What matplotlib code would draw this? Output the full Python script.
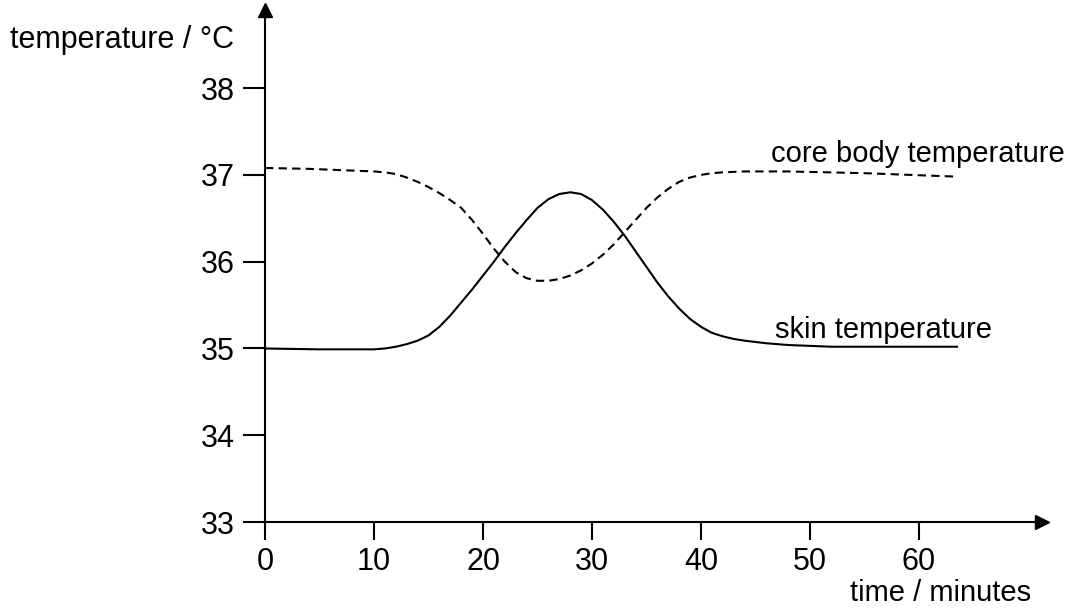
import matplotlib.pyplot as plt

plt.rcParams['font.family'] = ['Liberation Sans', 'DejaVu Sans']

# readings (time in minutes, temperature in degC)
core_time = [0, 4, 8, 10, 11, 12, 13, 14, 15, 16, 17, 18, 19, 20, 21, 22, 23, 24, 25, 26, 27,
             28, 29, 30, 31, 32, 33, 34, 35, 36, 37, 38, 39, 40, 41, 42, 44, 48, 55, 63.5]
core_temp = [37.08, 37.07, 37.05, 37.04, 37.03, 37.01, 36.97, 36.92, 36.86, 36.79, 36.71, 36.62,
             36.48, 36.32, 36.15, 36.0, 35.88, 35.81, 35.78, 35.78, 35.8, 35.84, 35.9, 35.98,
             36.08, 36.2, 36.34, 36.48, 36.62, 36.74, 36.84, 36.92, 36.97, 37.0, 37.02, 37.03,
             37.04, 37.04, 37.02, 36.98]

skin_time = [0, 5, 10, 11, 12, 13, 14, 15, 16, 17, 18, 19, 20, 21, 22, 23, 24, 25, 26, 27, 28,
             29, 30, 31, 32, 33, 34, 35, 36, 37, 38, 39, 40, 41, 42, 43, 44, 46, 48, 52, 63.5]
skin_temp = [35.0, 34.99, 34.99, 35.0, 35.02, 35.05, 35.09, 35.15, 35.25, 35.38, 35.53, 35.68,
             35.84, 36.0, 36.17, 36.33, 36.48, 36.62, 36.72, 36.78, 36.8, 36.78, 36.71, 36.6,
             36.46, 36.3, 36.12, 35.94, 35.76, 35.6, 35.46, 35.34, 35.25, 35.18, 35.14, 35.11,
             35.09, 35.06, 35.04, 35.02, 35.02]

x_ticks = [0, 10, 20, 30, 40, 50, 60]
y_ticks = [33, 34, 35, 36, 37, 38]

fig = plt.figure(figsize=(10.7, 6.12), dpi=100)
ax = fig.add_axes([0.2477, 0.147, 0.7262, 0.8366])

ax.plot(skin_time, skin_temp, color='black', lw=1.5)
ax.plot(core_time, core_temp, color='black', lw=1.5, dashes=(4, 2.5))

ax.set_xlim(0, 71.3)
ax.set_ylim(33, 38.9)
ax.set_xticks(x_ticks)
ax.set_yticks(y_ticks)

for side in ['top', 'right']:
    ax.spines[side].set_visible(False)
for side in ['left', 'bottom']:
    ax.spines[side].set_linewidth(1.5)

ax.tick_params(axis='y', direction='out', length=16, width=1.5, pad=6, labelsize=22)
ax.tick_params(axis='x', direction='out', length=13, width=1.5, pad=5, labelsize=22)

# arrow heads on the axes
ax.plot(1, 0, '>', color='black', ms=10, transform=ax.transAxes, clip_on=False)
ax.plot(0, 1, '^', color='black', ms=10, transform=ax.transAxes, clip_on=False)

fig.text(0.995, 0.749, 'core body temperature', fontsize=21, ha='right', va='center')
fig.text(0.724, 0.461, 'skin temperature', fontsize=21, ha='left', va='center')

fig.text(0.009, 0.935, 'temperature / °C', fontsize=22, ha='left', va='center')
fig.text(0.964, 0.031, 'time / minutes', fontsize=21, ha='right', va='center')

fig.savefig('out.png', dpi=100)
